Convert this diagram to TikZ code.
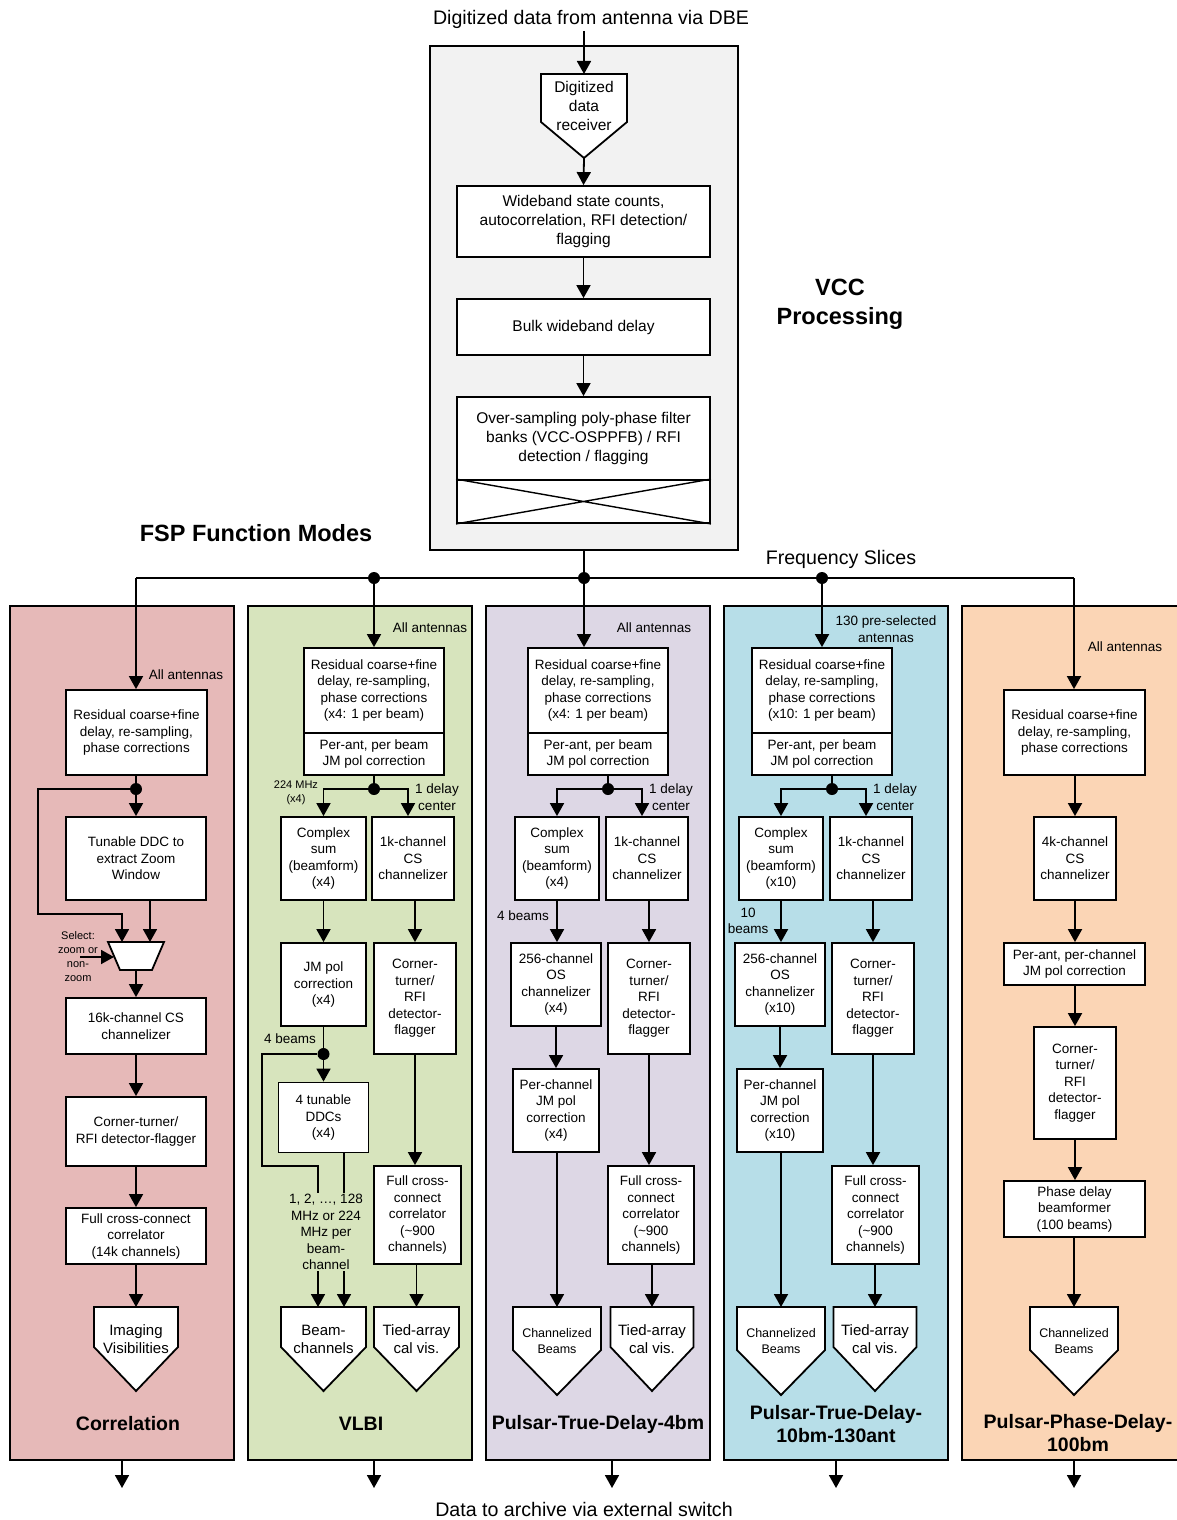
\documentclass[tikz,border=0pt]{standalone}
\usepackage{fontspec}
\setmainfont{Liberation Sans}
\usetikzlibrary{arrows.meta}

\definecolor{vccgray}{HTML}{F2F2F2}
\definecolor{corrfill}{HTML}{E6B9B8}
\definecolor{vlbifill}{HTML}{D7E4BD}
\definecolor{ptdfill}{HTML}{DDD7E5}
\definecolor{ptdtfill}{HTML}{B7DEE8}
\definecolor{ppdfill}{HTML}{FBD5B5}

\newcommand\FtBig{\fontsize{19.6}{23}\selectfont}
\newcommand\FtVcc{\fontsize{15.5}{19}\selectfont}
\newcommand\FtFsp{\fontsize{13.5}{16.5}\selectfont}
\newcommand\FtSmall{\fontsize{11}{14}\selectfont}
\newcommand\FtOut{\fontsize{15}{18}\selectfont}
\newcommand\FtCb{\fontsize{12.5}{16}\selectfont}
\newcommand\FtHead{\fontsize{23.5}{29}\selectfont\bfseries}
\newcommand\FtMode{\fontsize{19.5}{23.5}\selectfont\bfseries}

% output block: pentagon pointing down; #1 name of top coordinate, #2 centre x,
% #3 half width, #4 top y, #5 y where the sides end, #6 tip y
\newcommand\outpent[6]{%
  \draw[ln,fill=white] ({#2-#3},#4) -- ({#2+#3},#4) -- ({#2+#3},#5) -- (#2,#6) -- ({#2-#3},#5) -- cycle;
  \coordinate (#1) at (#2,#4);}

\begin{document}
\begin{tikzpicture}[x=1pt,y=-1pt,
  ln/.style={line width=1.8pt},
  arr/.style={ln,-{Triangle[width=14pt,length=13pt]}},
  box/.style={draw,ln,fill=white,align=center,inner sep=0pt,font=\FtFsp},
  vbox/.style={box,font=\FtVcc},
  panel/.style={draw,ln,inner sep=0pt},
  lab/.style={align=center,inner sep=0pt},
  dot/.style={circle,fill=black,inner sep=0pt,minimum size=12pt},
  xline/.style={line width=1.4pt}]

\useasboundingbox (0,0) rectangle (1177,1520);
\clip (0,0) rectangle (1177,1520);

% ---------------- VCC processing ----------------
\node[panel,fill=vccgray,minimum width=308pt,minimum height=504pt] (vcc) at (584,298) {};
\node[lab,font=\FtBig] (srcl) at (591,19) {Digitized data from antenna via DBE};
\coordinate (srcin) at (584,31);
\outpent{ddr}{584}{43}{74}{122}{158}
\coordinate (ddrtip) at (584,158);
\node[lab,font=\FtVcc] (ddrt) at (584,106) {Digitized\\data\\receiver};
\node[vbox,minimum width=253pt,minimum height=71pt] (vwb) at (583.5,221.5) {Wideband state counts,\\autocorrelation, RFI detection/\\flagging};
\node[vbox,minimum width=253pt,minimum height=56pt] (vbulk) at (583.5,327) {Bulk wideband delay};
\node[vbox,minimum width=253pt,minimum height=83pt] (vos) at (583.5,438.5) {Over-sampling poly-phase filter\\banks (VCC-OSPPFB) / RFI\\detection / flagging};
\node[vbox,minimum width=253pt,minimum height=43pt] (vosx) at (583.5,501.5) {};
\draw[xline] (vosx.north west) -- (vosx.south east) (vosx.south west) -- (vosx.north east);
\draw[arr] (srcin) -- (ddr);
\draw[arr] (ddrtip) -- (vwb.north);
\draw[arr] (vwb) -- (vbulk);
\draw[arr] (vbulk) -- (vos);

\node[lab,font=\FtHead] (vcct) at (840,304) {VCC\\Processing};
\node[lab,font=\FtHead] (fspt) at (256,533) {FSP Function Modes};
\node[lab,font=\FtBig] (fsl) at (841,559) {Frequency Slices};

% ---------------- FSP mode panels ----------------
\node[panel,fill=corrfill,minimum width=224pt,minimum height=854pt] (pcorr) at (122,1033) {};
\node[panel,fill=vlbifill,minimum width=224pt,minimum height=854pt] (pvlbi) at (360,1033) {};
\node[panel,fill=ptdfill,minimum width=224pt,minimum height=854pt] (pptd) at (598,1033) {};
\node[panel,fill=ptdtfill,minimum width=224pt,minimum height=854pt] (pptdt) at (836,1033) {};
\node[panel,fill=ppdfill,minimum width=238pt,minimum height=854pt] (pppd) at (1081,1033) {};

% frequency slice bus
\coordinate (fA) at (136,578);
\coordinate (fB) at (374,578);
\coordinate (fC) at (584,578);
\coordinate (fD) at (822,578);
\coordinate (fE) at (1074,578);
\draw[ln] (vcc.south) -- (fC);
\draw[ln] (fA) -- (fE);
\node[dot] (dB) at (fB) {};
\node[dot] (dC) at (fC) {};
\node[dot] (dD) at (fD) {};

% ---------------- Correlation ----------------
\node[box,minimum width=141pt,minimum height=85pt] (cres) at (136.5,732.5) {Residual coarse+fine\\delay, re-sampling,\\phase corrections};
\draw[arr] (fA) -- (fA |- cres.north);
\node[lab,font=\FtFsp] at (186,675) {All antennas};
\node[dot] (cd1) at (136,789) {};
\node[box,minimum width=140pt,minimum height=83pt] (ctun) at (136,858.5) {Tunable DDC to\\extract Zoom\\Window};
\draw[ln] (cres.south -| cd1) -- (cd1);
\draw[arr] (cd1) -- (ctun.north);
\coordinate (cmuxL) at (122,942);
\coordinate (cmuxR) at (150,942);
\coordinate (cmuxW) at (114,957);
\coordinate (cmuxS) at (136,970);
\draw[ln,fill=white] (108,942) -- (164,942) -- (152,970) -- (120,970) -- cycle;
\draw[arr] (cd1) -| (38,914) -| (cmuxL);
\draw[arr] (ctun.south -| cmuxR) -- (cmuxR);
\node[lab,font=\FtSmall] (csel) at (78,957) {Select:\\zoom or\\non-\\zoom};
\coordinate (cselin) at (80,957);
\draw[arr] (cselin) -- (cmuxW);
\node[box,minimum width=140pt,minimum height=56pt] (c16k) at (136,1026) {16k-channel CS\\channelizer};
\draw[arr] (cmuxS) -- (c16k.north);
\node[box,minimum width=140pt,minimum height=69pt] (cct) at (136,1131.5) {Corner-turner/\\RFI detector-flagger};
\draw[arr] (c16k) -- (cct);
\node[box,minimum width=140pt,minimum height=56pt] (cfx) at (136,1236) {Full cross-connect\\correlator\\(14k channels)};
\draw[arr] (cct) -- (cfx);
\outpent{civ}{136}{42}{1307}{1347}{1391}
\node[lab,font=\FtOut] at (136,1339) {Imaging\\Visibilities};
\draw[arr] (cfx.south) -- (civ);
\node[lab,font=\FtMode] at (128,1424) {Correlation};

% ---------------- VLBI ----------------
\node[box,minimum width=140pt,minimum height=85pt] (vres) at (374,690.5) {Residual coarse+fine\\delay, re-sampling,\\phase corrections\\(x4: 1 per beam)};
\node[box,minimum width=140pt,minimum height=42pt] (vjm) at (374,754) {Per-ant, per beam\\JM pol correction};
\draw[arr] (dB) -- (vres.north);
\node[lab,font=\FtFsp] at (430,628) {All antennas};
\node[dot] (vd1) at (374,789) {};
\draw[ln] (vjm.south) -- (vd1);
\node[box,minimum width=85pt,minimum height=83pt] (vcs) at (323.5,858.5) {Complex\\sum\\(beamform)\\(x4)};
\node[box,minimum width=82pt,minimum height=83pt] (v1k) at (413,858.5) {1k-channel\\CS\\channelizer};
\draw[arr] (vd1) -| (vcs.north);
\draw[arr] (vd1) -| ([xshift=-5pt]v1k.north);
\node[lab,font=\FtSmall] at (296,793) {224 MHz\\(x4)};
\node[lab,font=\FtFsp] at (437,797) {1 delay\\center};
\node[box,minimum width=85pt,minimum height=83pt] (vjp) at (323.5,984.5) {JM pol\\correction\\(x4)};
\node[box,minimum width=82pt,minimum height=111pt] (vct) at (415,998.5) {Corner-\\turner/\\RFI\\detector-\\flagger};
\draw[arr] (vcs) -- (vjp);
\draw[arr] (v1k.south -| vct.north) -- (vct.north);
\node[lab,font=\FtFsp] at (290,1039) {4 beams};
\node[dot] (vd2) at (323.5,1054) {};
\draw[ln] (vjp.south) -- (vd2);
\node[box,minimum width=90pt,minimum height=70pt] (vddc) at (323.5,1117.5) {4 tunable\\DDCs\\(x4)};
\draw[arr] (vd2) -- (vddc.north);
\outpent{vbc}{323.5}{42.5}{1307}{1347}{1391}
\coordinate (vbcL) at (318,1307);
\coordinate (vbcR) at (344,1307);
\draw[arr] (vd2) -| (262,1166) -| (vbcL);
\draw[arr] (vddc.south -| vbcR) -- (vbcR);
\node[lab,font=\FtFsp,fill=vlbifill,inner sep=1pt] at (326,1232) {1, 2, \dots, 128\\MHz or 224\\MHz per\\beam-\\channel};
\node[box,minimum width=87pt,minimum height=98pt] (vfx) at (417.5,1215) {Full cross-\\connect\\correlator\\(\textasciitilde900\\channels)};
\draw[arr] (vct.south) -- (vct.south |- vfx.north);
\outpent{vta}{416.5}{42.5}{1307}{1347}{1391}
\draw[arr] (vfx.south -| vta) -- (vta);
\node[lab,font=\FtOut] at (323.5,1339) {Beam-\\channels};
\node[lab,font=\FtOut] at (416.5,1339) {Tied-array\\cal vis.};
\node[lab,font=\FtMode] at (361,1424) {VLBI};

% ---------------- Pulsar true delay, 4 beams ----------------
\node[box,minimum width=140pt,minimum height=85pt] (pres) at (598,690.5) {Residual coarse+fine\\delay, re-sampling,\\phase corrections\\(x4: 1 per beam)};
\node[box,minimum width=140pt,minimum height=42pt] (pjm) at (598,754) {Per-ant, per beam\\JM pol correction};
\draw[arr] (dC) -- (fC |- pres.north);
\node[lab,font=\FtFsp] at (654,628) {All antennas};
\node[dot] (pd1) at (608,789) {};
\draw[ln] (pd1 |- pjm.south) -- (pd1);
\node[box,minimum width=84pt,minimum height=83pt] (pcs) at (557,858.5) {Complex\\sum\\(beamform)\\(x4)};
\node[box,minimum width=82pt,minimum height=83pt] (p1k) at (647,858.5) {1k-channel\\CS\\channelizer};
\draw[arr] (pd1) -| (pcs.north);
\draw[arr] (pd1) -| ([xshift=-5pt]p1k.north);
\node[lab,font=\FtFsp] at (671,797) {1 delay\\center};
\node[lab,font=\FtFsp] at (523,916) {4 beams};
\node[box,minimum width=90pt,minimum height=83pt] (p256) at (556,984.5) {256-channel\\OS\\channelizer\\(x4)};
\node[box,minimum width=82pt,minimum height=111pt] (pct) at (649,998.5) {Corner-\\turner/\\RFI\\detector-\\flagger};
\draw[arr] (pcs.south) -- (pcs.south |- p256.north);
\draw[arr] (p1k.south -| pct.north) -- (pct.north);
\node[box,minimum width=86pt,minimum height=83pt] (ppc) at (556,1110.5) {Per-channel\\JM pol\\correction\\(x4)};
\draw[arr] (p256) -- (ppc);
\node[box,minimum width=86pt,minimum height=98pt] (pfx) at (651,1215) {Full cross-\\connect\\correlator\\(\textasciitilde900\\channels)};
\draw[arr] (pct.south) -- (pct.south |- pfx.north);
\outpent{pcb}{557}{44}{1307}{1350}{1395}
\outpent{pta}{652}{41.5}{1307}{1347}{1391}
\draw[arr] (ppc.south -| pcb) -- (pcb);
\draw[arr] (pfx.south -| pta) -- (pta);
\node[lab,font=\FtCb] at (557,1341) {Channelized\\Beams};
\node[lab,font=\FtOut] at (652,1339) {Tied-array\\cal vis.};
\node[lab,font=\FtMode] at (598,1424) {Pulsar-True-Delay-4bm};

% ---------------- Pulsar true delay, 10 beams, 130 antennas ----------------
\node[box,minimum width=140pt,minimum height=85pt] (tres) at (822,690.5) {Residual coarse+fine\\delay, re-sampling,\\phase corrections\\(x10: 1 per beam)};
\node[box,minimum width=140pt,minimum height=42pt] (tjm) at (822,754) {Per-ant, per beam\\JM pol correction};
\draw[arr] (dD) -- (fD |- tres.north);
\node[lab,font=\FtFsp] at (886,629) {130 pre-selected\\antennas};
\node[dot] (td1) at (832,789) {};
\draw[ln] (td1 |- tjm.south) -- (td1);
\node[box,minimum width=84pt,minimum height=83pt] (tcs) at (781,858.5) {Complex\\sum\\(beamform)\\(x10)};
\node[box,minimum width=82pt,minimum height=83pt] (t1k) at (871,858.5) {1k-channel\\CS\\channelizer};
\draw[arr] (td1) -| (tcs.north);
\draw[arr] (td1) -| ([xshift=-5pt]t1k.north);
\node[lab,font=\FtFsp] at (895,797) {1 delay\\center};
\node[lab,font=\FtFsp] at (748,921) {10\\beams};
\node[box,minimum width=90pt,minimum height=83pt] (t256) at (780,984.5) {256-channel\\OS\\channelizer\\(x10)};
\node[box,minimum width=82pt,minimum height=111pt] (tct) at (873,998.5) {Corner-\\turner/\\RFI\\detector-\\flagger};
\draw[arr] (tcs.south) -- (tcs.south |- t256.north);
\draw[arr] (t1k.south -| tct.north) -- (tct.north);
\node[box,minimum width=86pt,minimum height=83pt] (tpc) at (780,1110.5) {Per-channel\\JM pol\\correction\\(x10)};
\draw[arr] (t256) -- (tpc);
\node[box,minimum width=87pt,minimum height=98pt] (tfx) at (875.5,1215) {Full cross-\\connect\\correlator\\(\textasciitilde900\\channels)};
\draw[arr] (tct.south) -- (tct.south |- tfx.north);
\outpent{tcb}{781}{44}{1307}{1350}{1395}
\outpent{tta}{875}{41.5}{1307}{1347}{1391}
\draw[arr] (tpc.south -| tcb) -- (tcb);
\draw[arr] (tfx.south -| tta) -- (tta);
\node[lab,font=\FtCb] at (781,1341) {Channelized\\Beams};
\node[lab,font=\FtOut] at (875,1339) {Tied-array\\cal vis.};
\node[lab,font=\FtMode] at (836,1424) {Pulsar-True-Delay-\\10bm-130ant};

% ---------------- Pulsar phase delay, 100 beams ----------------
\node[box,minimum width=141pt,minimum height=85pt] (dres) at (1074.5,732.5) {Residual coarse+fine\\delay, re-sampling,\\phase corrections};
\draw[arr] (fE) -- (fE |- dres.north);
\node[lab,font=\FtFsp] at (1125,647) {All antennas};
\node[box,minimum width=82pt,minimum height=83pt] (d4k) at (1075,858.5) {4k-channel\\CS\\channelizer};
\draw[arr] (dres.south -| d4k.north) -- (d4k.north);
\node[box,minimum width=141pt,minimum height=42pt] (dpa) at (1074.5,964) {Per-ant, per-channel\\JM pol correction};
\draw[arr] (d4k.south) -- (d4k.south |- dpa.north);
\node[box,minimum width=82pt,minimum height=112pt] (dct) at (1075,1083) {Corner-\\turner/\\RFI\\detector-\\flagger};
\draw[arr] (dct.north |- dpa.south) -- (dct.north);
\node[box,minimum width=141pt,minimum height=56pt] (dpb) at (1074.5,1209) {Phase delay\\beamformer\\(100 beams)};
\draw[arr] (dct.south) -- (dct.south |- dpb.north);
\outpent{dcb}{1074}{44}{1307}{1350}{1395}
\draw[arr] (dpb.south -| dcb) -- (dcb);
\node[lab,font=\FtCb] at (1074,1341) {Channelized\\Beams};
\node[lab,font=\FtMode] at (1078,1433) {Pulsar-Phase-Delay-\\100bm};

% ---------------- outputs to archive ----------------
\coordinate (out1) at (122,1488);
\coordinate (out2) at (374,1488);
\coordinate (out3) at (612,1488);
\coordinate (out4) at (836,1488);
\coordinate (out5) at (1074,1488);
\draw[arr] (out1 |- pcorr.south) -- (out1);
\draw[arr] (out2 |- pvlbi.south) -- (out2);
\draw[arr] (out3 |- pptd.south) -- (out3);
\draw[arr] (out4 |- pptdt.south) -- (out4);
\draw[arr] (out5 |- pppd.south) -- (out5);
\node[lab,font=\FtBig] at (584,1509) {Data to archive via external switch};

\end{tikzpicture}
\end{document}
